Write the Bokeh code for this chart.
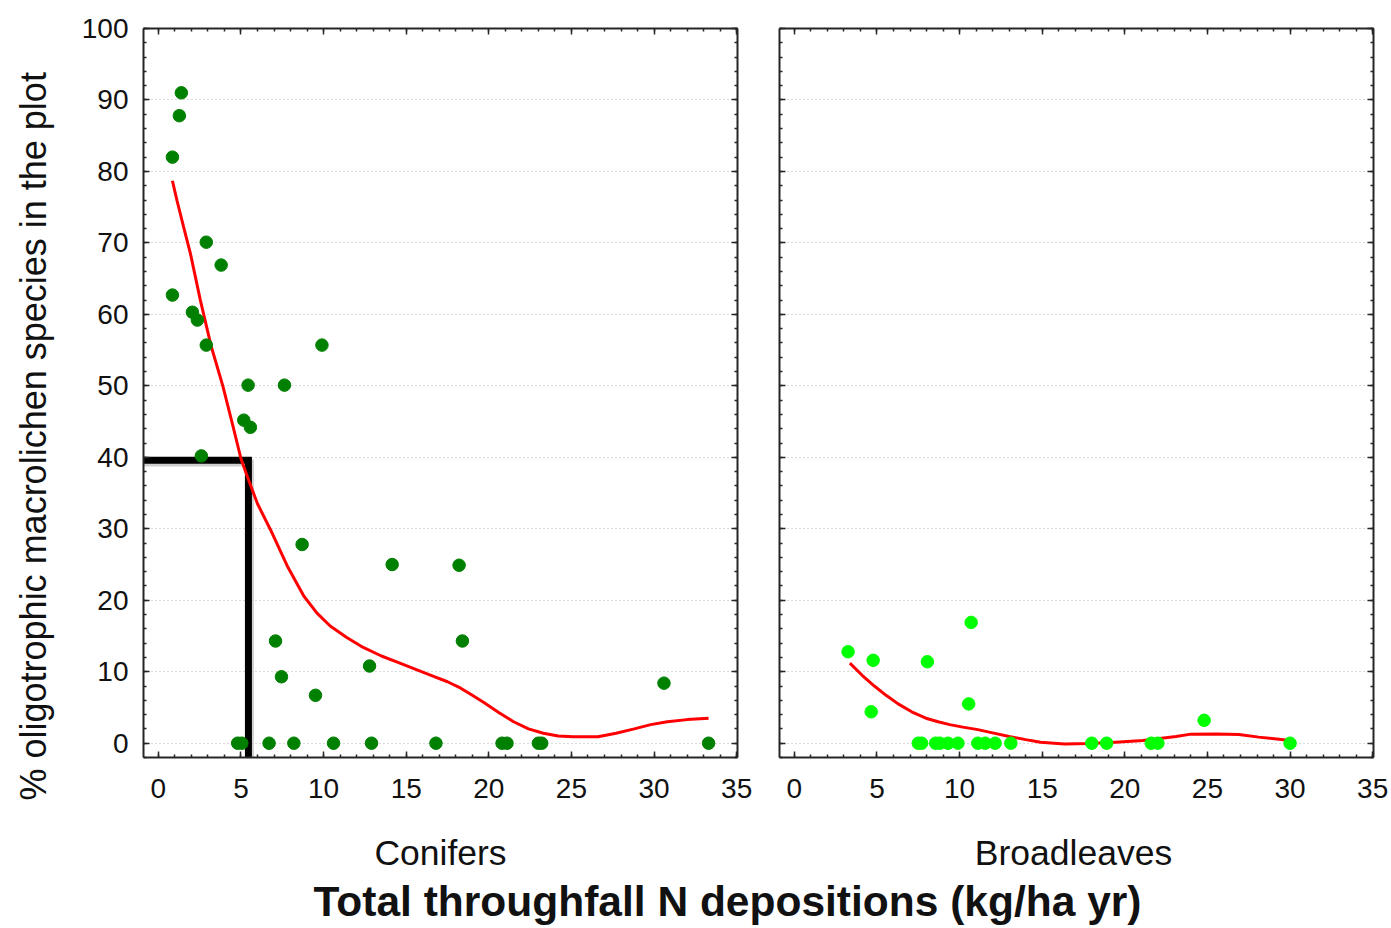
import math
from bokeh.plotting import figure
from bokeh.models import Range1d, Label, SingleIntervalTicker, LinearAxis, CustomJSTickFormatter
from bokeh.layouts import column, row
from bokeh.embed import file_html
from bokeh.resources import INLINE

FONT = "Liberation Sans"

# ---- data ----
conifer_x = [1.39, 1.27, 0.85, 0.85, 2.9, 3.8, 2.06, 2.36, 2.9, 5.43, 7.63, 9.9, 5.17, 5.57, 2.6,
             8.7, 14.15, 18.2, 7.09, 18.4, 7.45, 12.78, 9.51, 30.6,
             4.8, 5.05, 6.7, 8.2, 10.6, 12.9, 16.8, 20.8, 21.1, 23.0, 23.2, 33.3]
conifer_y = [91.0, 87.8, 82.0, 62.7, 70.1, 66.9, 60.3, 59.2, 55.7, 50.1, 50.1, 55.7, 45.2, 44.2, 40.2,
             27.8, 25.0, 24.9, 14.3, 14.3, 9.3, 10.8, 6.7, 8.4,
             0, 0, 0, 0, 0, 0, 0, 0, 0, 0, 0, 0]
conifer_fit_x = [0.85, 1.13, 1.53, 1.94, 2.54, 3.2, 3.9, 4.5, 5.0, 5.4, 6.0, 6.8, 7.8, 8.8, 9.6, 10.4, 11.4, 12.4,
                 13.5, 14.5, 15.5, 16.5, 17.5, 18.3, 19.0, 19.7, 20.6, 21.5, 22.4, 23.3, 24.2, 25.1, 26.6,
                 27.7, 28.8, 29.8, 30.8, 32.0, 33.3]
conifer_fit_y = [78.7, 75.9, 72.2, 68.5, 62.0, 55.5, 50.0, 44.5, 39.8, 37.2, 33.5, 29.8, 24.8, 20.6, 18.2, 16.4, 14.8, 13.4,
                 12.2, 11.3, 10.4, 9.5, 8.6, 7.7, 6.7, 5.7, 4.3, 3.0, 2.0, 1.4, 1.0, 0.9, 0.9,
                 1.4, 2.0, 2.6, 3.0, 3.3, 3.5]

broad_x = [3.25, 4.77, 4.65, 8.05, 10.7, 10.55, 24.8,
           7.5, 7.7, 8.55, 8.8, 9.3, 9.9, 11.1, 11.55, 12.15, 13.1, 18.0, 18.9, 21.6, 22.0, 30.0]
broad_y = [12.8, 11.6, 4.4, 11.4, 16.9, 5.5, 3.2,
           0, 0, 0, 0, 0, 0, 0, 0, 0, 0, 0, 0, 0, 0, 0]
broad_fit_x = [3.36, 4.1, 4.84, 5.55, 6.28, 7.1, 7.96, 8.7, 9.4, 10.2, 11.1, 12.0, 13.0, 14.0, 14.9, 16.35,
               17.8, 19.2, 21.1, 23.1, 24.0, 25.5, 26.9, 28.1, 30.0]
broad_fit_y = [11.2, 9.5, 8.0, 6.7, 5.5, 4.4, 3.5, 3.0, 2.6, 2.25, 1.9, 1.45, 0.94, 0.5, 0.14, -0.1,
               -0.05, 0.1, 0.38, 0.94, 1.27, 1.3, 1.22, 0.85, 0.38]

threshold_x = 5.45
threshold_y = 39.6

x_ticks_interval = 5
y_ticks_interval = 10
X_MIN, X_MAX = -0.9, 35.05
Y_MIN, Y_MAX = -2, 100

y_title = "% oligotrophic macrolichen species in the plot"
x_title = "Total throughfall N depositions (kg/ha yr)"
panel_titles = ["Conifers", "Broadleaves"]

AX_COLOR = "#262626"
TXT_COLOR = "#111111"

# ---- layout (pixels) ----
FRAME_TOP, FRAME_BOTTOM = 28, 757
P1_LEFT, P1_RIGHT = 143, 737
P2_LEFT, P2_RIGHT = 779, 1373
TOTAL_W, TOTAL_H = 1391, 928
PANEL_H = 812
P0_W = 62          # strip holding the rotated y title
P1_END = 758
BASE_FIX = 11      # measured offset between requested and drawn baseline


def style_axis(ax, ticker, labels):
    ax.ticker = ticker
    ax.major_tick_in = 6
    ax.major_tick_out = 0
    ax.minor_tick_in = 3
    ax.minor_tick_out = 0
    ax.axis_line_width = 2
    ax.axis_line_color = AX_COLOR
    ax.major_tick_line_color = AX_COLOR
    ax.minor_tick_line_color = AX_COLOR
    ax.major_tick_line_width = 1.5
    ax.minor_tick_line_width = 1.5
    ax.major_label_text_font = FONT
    ax.major_label_text_color = TXT_COLOR
    if labels:
        ax.major_label_text_font_size = "28px"
    else:
        ax.formatter = CustomJSTickFormatter(code="return ''")
        ax.major_label_text_font_size = "1px"
        ax.major_label_standoff = 0


def make_panel(width, left, right, ylabels):
    p = figure(width=width, height=PANEL_H, x_range=Range1d(X_MIN, X_MAX), y_range=Range1d(Y_MIN, Y_MAX),
               output_backend="svg", toolbar_location=None,
               min_border_left=left, min_border_right=right, min_border_top=FRAME_TOP,
               min_border_bottom=PANEL_H - FRAME_BOTTOM)
    p.outline_line_color = None
    p.background_fill_color = "white"
    xt = SingleIntervalTicker(interval=x_ticks_interval, num_minor_ticks=5)
    yt = SingleIntervalTicker(interval=y_ticks_interval, num_minor_ticks=5)
    bx = p.xaxis[0]
    ly = p.yaxis[0]
    style_axis(bx, xt, True)
    bx.major_label_standoff = 21
    style_axis(ly, yt, ylabels)
    if ylabels:
        ly.major_label_standoff = 15
    top = LinearAxis()
    style_axis(top, SingleIntervalTicker(interval=x_ticks_interval, num_minor_ticks=5), False)
    p.add_layout(top, "above")
    rgt = LinearAxis()
    style_axis(rgt, SingleIntervalTicker(interval=y_ticks_interval, num_minor_ticks=5), False)
    p.add_layout(rgt, "right")
    p.xgrid.visible = False
    p.ygrid.ticker = yt
    p.ygrid.grid_line_color = "#b5b5b5"
    p.ygrid.grid_line_dash = "1 3"
    p.ygrid.grid_line_width = 1
    return p


def text_strip(width, height):
    s = figure(width=width, height=height, x_range=Range1d(0, 1), y_range=Range1d(0, 1),
               output_backend="svg", toolbar_location=None, min_border=0,
               x_axis_location=None, y_axis_location=None)
    s.outline_line_color = None
    s.grid.visible = False
    return s


# strip on the left holding the rotated y title (full page height, not frame-aligned)
p0 = text_strip(P0_W, TOTAL_H)
p0.add_layout(Label(x=44 - BASE_FIX, y=TOTAL_H - 800, x_units="screen", y_units="screen", text=y_title,
                    angle=math.pi / 2, text_align="left", text_baseline="alphabetic",
                    text_font=FONT, text_font_size="36px", text_color=TXT_COLOR))

p1 = make_panel(P1_END - P0_W, P1_LEFT - P0_W, P1_END - P1_RIGHT, True)
p2 = make_panel(TOTAL_W - P1_END, P2_LEFT - P1_END, TOTAL_W - P2_RIGHT, False)

# threshold lines on the conifer panel (with a soft shadow)
p1.line([X_MIN, threshold_x + 0.12, threshold_x + 0.12], [threshold_y - 0.4, threshold_y - 0.4, Y_MIN - 1],
        line_color="#a0a0a0", line_width=7, line_alpha=0.5, line_join="miter")
p1.line([X_MIN, threshold_x, threshold_x], [threshold_y, threshold_y, Y_MIN - 1],
        line_color="black", line_width=7, line_join="miter")

p1.line(conifer_fit_x, conifer_fit_y, line_color="red", line_width=3)
p1.scatter(conifer_x, conifer_y, size=12.5, fill_color="#008000", line_color="#008000")

p2.line(broad_fit_x, broad_fit_y, line_color="red", line_width=3)
p2.scatter(broad_x, broad_y, size=12.5, fill_color="#00ff00", line_color="#00ff00")

# bottom strip: panel names and the shared x title
p3 = text_strip(TOTAL_W - P0_W, TOTAL_H - PANEL_H)
for name, cx in zip(panel_titles, [440, 1073]):
    p3.add_layout(Label(x=cx - P0_W, y=TOTAL_H - 863 + BASE_FIX, x_units="screen", y_units="screen",
                        text=name, text_align="center", text_baseline="alphabetic", text_font=FONT,
                        text_font_size="35.5px", text_color=TXT_COLOR))
p3.add_layout(Label(x=727 - P0_W, y=TOTAL_H - 912 + BASE_FIX, x_units="screen", y_units="screen",
                    text=x_title, text_align="center", text_baseline="alphabetic", text_font=FONT,
                    text_font_size="42.5px", text_font_style="bold", text_color=TXT_COLOR))

layout = row(p0, column(row(p1, p2), p3))
open("out.html", "w").write(file_html(layout, INLINE))
